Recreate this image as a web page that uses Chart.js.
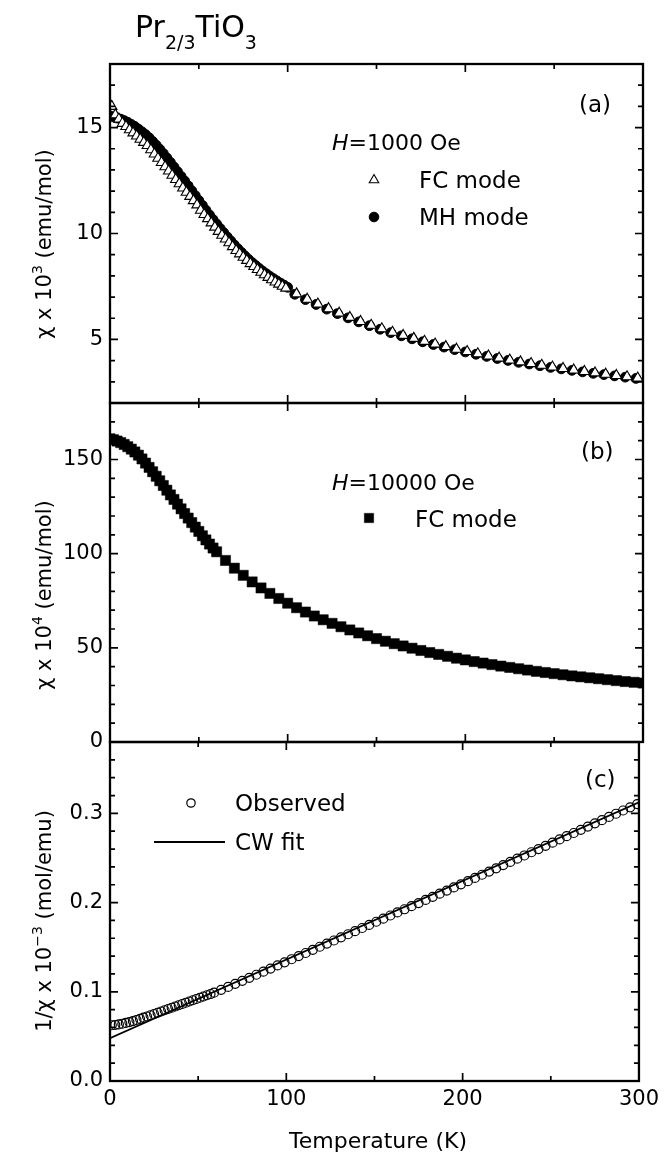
<!DOCTYPE html>
<html lang="en">
<head>
  <meta charset="UTF-8" />
  <title>Pr2/3TiO3 susceptibility</title>
  <script src="https://cdn.jsdelivr.net/npm/chart.js"></script>
  <style>
    html, body { margin: 0; padding: 0; background: #fff; }
    #wrap { position: relative; width: 665px; height: 1154px; }
    #wrap canvas { position: absolute; left: 0; top: 0; }
  </style>
</head>
<body>
<div id="wrap">
  <canvas id="panelA" width="665" height="1154"></canvas>
  <canvas id="panelB" width="665" height="1154"></canvas>
  <canvas id="panelC" width="665" height="1154"></canvas>
</div>

<script>
  // ---- data ----
  // (a) H = 1000 Oe, chi x 10^3 (emu/mol)
  const fcTemp = [1, 3, 5, 7, 9, 11, 13, 15, 17, 19, 21, 23, 25, 27, 29, 31, 33, 35, 37, 39,
    41, 43, 45, 47, 49, 51, 53, 55, 57, 59, 61, 63, 65, 67, 69, 71, 73, 75, 77, 79,
    81, 83, 85, 87, 89, 91, 93, 95, 97, 99,
    105, 111, 117, 123, 129, 135, 141, 147, 153, 159, 165, 171, 177, 183, 189, 195, 201,
    207, 213, 219, 225, 231, 237, 243, 249, 255, 261, 267, 273, 279, 285, 291, 297];
  const fcChi = [16.0, 15.6, 15.4, 15.2, 15.05, 14.9, 14.75, 14.6, 14.45, 14.3, 14.15, 13.95, 13.75, 13.55, 13.35, 13.15, 12.95, 12.75, 12.55, 12.35,
    12.15, 11.95, 11.75, 11.55, 11.35, 11.1, 10.9, 10.7, 10.5, 10.3, 10.1, 9.92, 9.74, 9.56, 9.38, 9.2, 9.04, 8.88, 8.73, 8.58,
    8.44, 8.3, 8.17, 8.05, 7.93, 7.82, 7.71, 7.61, 7.51, 7.42,
    7.15, 6.9, 6.67, 6.45, 6.24, 6.04, 5.85, 5.67, 5.5, 5.34, 5.19, 5.05, 4.91, 4.78, 4.66, 4.54, 4.43,
    4.32, 4.22, 4.12, 4.03, 3.94, 3.86, 3.78, 3.7, 3.63, 3.56, 3.49, 3.42, 3.36, 3.3, 3.24, 3.18];

  const mhTemp = [0, 2, 4, 6, 8, 10, 12, 14, 16, 18, 20, 22, 24, 26, 28, 30, 32, 34, 36, 38,
    40, 42, 44, 46, 48, 50, 52, 54, 56, 58, 60, 62, 64, 66, 68, 70, 72, 74, 76, 78,
    80, 82, 84, 86, 88, 90, 92, 94, 96, 98, 100,
    104, 110, 116, 122, 128, 134, 140, 146, 152, 158, 164, 170, 176, 182, 188, 194, 200,
    206, 212, 218, 224, 230, 236, 242, 248, 254, 260, 266, 272, 278, 284, 290, 296];
  const mhChi = [15.55, 15.5, 15.45, 15.4, 15.33, 15.25, 15.15, 15.05, 14.93, 14.8, 14.67, 14.52, 14.35, 14.17, 13.98, 13.78, 13.57, 13.36, 13.14, 12.92,
    12.7, 12.48, 12.25, 12.02, 11.79, 11.56, 11.33, 11.1, 10.88, 10.66, 10.45, 10.24, 10.04, 9.84, 9.65, 9.46, 9.28, 9.11, 8.94, 8.78,
    8.63, 8.49, 8.35, 8.22, 8.1, 7.98, 7.87, 7.76, 7.66, 7.56, 7.46,
    7.13, 6.88, 6.65, 6.43, 6.22, 6.02, 5.83, 5.65, 5.48, 5.32, 5.17, 5.03, 4.89, 4.76, 4.64, 4.52, 4.41,
    4.3, 4.2, 4.1, 4.01, 3.92, 3.84, 3.76, 3.68, 3.61, 3.54, 3.47, 3.4, 3.34, 3.28, 3.22, 3.16];

  // (b) H = 10000 Oe, chi x 10^4 (emu/mol)
  const hfTemp = [0, 2, 4, 6, 8, 10, 12, 14, 16, 18, 20, 22, 24, 26, 28, 30, 32, 34, 36, 38,
    40, 42, 44, 46, 48, 50, 52, 54, 56, 58, 60,
    65, 70, 75, 80, 85, 90, 95, 100, 105, 110, 115, 120, 125, 130, 135, 140, 145, 150, 155, 160,
    165, 170, 175, 180, 185, 190, 195, 200, 205, 210, 215, 220, 225, 230, 235, 240, 245, 250, 255, 260,
    265, 270, 275, 280, 285, 290, 295, 300];
  const hfChi = [161, 160.5, 159.8, 159, 158, 156.8, 155.5, 154, 152.3, 150.3, 148.1, 145.8, 143.5, 141.1, 138.7, 136.2, 133.7, 131.2, 128.8, 126.3,
    123.8, 121.3, 118.9, 116.5, 114.1, 111.8, 109.5, 107.3, 105.1, 103, 101,
    96.4, 92.3, 88.5, 85.0, 81.8, 78.9, 76.2, 73.7, 71.3, 69.0, 66.9, 64.9, 63.0, 61.2, 59.5, 57.9, 56.4, 54.9, 53.5, 52.2,
    51.0, 49.8, 48.6, 47.5, 46.5, 45.5, 44.5, 43.6, 42.7, 41.9, 41.1, 40.3, 39.6, 38.9, 38.2, 37.5, 36.9, 36.3, 35.7, 35.1,
    34.6, 34.1, 33.6, 33.1, 32.6, 32.1, 31.7, 31.3];

  // (c) 1/chi x 10^-3 (mol/emu)
  const invTemp = [1, 3, 5, 7, 9, 11, 13, 15, 17, 19, 21, 23, 25, 27, 29, 31, 33, 35, 37, 39,
    41, 43, 45, 47, 49, 51, 53, 55, 57, 59,
    63, 67, 71, 75, 79, 83, 87, 91, 95, 99, 103, 107, 111, 115, 119, 123, 127, 131, 135, 139,
    143, 147, 151, 155, 159, 163, 167, 171, 175, 179, 183, 187, 191, 195, 199, 203, 207, 211, 215, 219,
    223, 227, 231, 235, 239, 243, 247, 251, 255, 259, 263, 267, 271, 275, 279, 283, 287, 291, 295, 299];
  const invChi = [0.0625, 0.0628, 0.0634, 0.0642, 0.0651, 0.0661, 0.0672, 0.0684, 0.0697, 0.071, 0.0723, 0.0737, 0.0751, 0.0765, 0.0779, 0.0793, 0.0807, 0.0821, 0.0835, 0.0849,
    0.0863, 0.0877, 0.0891, 0.0905, 0.0919, 0.0933, 0.0947, 0.0961, 0.0975, 0.099,
    0.1022, 0.1055, 0.1089, 0.1123, 0.1157, 0.1191, 0.1225, 0.126, 0.1295, 0.133, 0.1365, 0.14, 0.1435, 0.147, 0.1505, 0.154, 0.1575, 0.161, 0.1645, 0.168,
    0.1715, 0.175, 0.1785, 0.182, 0.1855, 0.189, 0.1925, 0.196, 0.1995, 0.203, 0.2065, 0.21, 0.2135, 0.217, 0.2205, 0.224, 0.2276, 0.2312, 0.2348, 0.2384,
    0.242, 0.2456, 0.2492, 0.2528, 0.2564, 0.26, 0.2636, 0.2672, 0.2708, 0.2744, 0.278, 0.2816, 0.2852, 0.2888, 0.2924, 0.296, 0.2996, 0.3032, 0.3068, 0.3104];

  // Curie-Weiss fit line end points
  const cwTemp = [0, 300];
  const cwInv = [0.048, 0.3125];

  // axis ranges / tick steps
  const tempRange = [0, 300];
  const tempTicks = { minor: 50, major: 100 };
  const axisA = { min: 2, max: 18, minor: 1, major: 5 };
  const axisB = { min: 0, max: 180, minor: 10, major: 50 };
  const axisC = { min: 0, max: 0.38, minor: 0.02, major: 0.1 };

  // ---- helpers ----
  const FONT = '"DejaVu Sans", sans-serif';
  const pts = (xs, ys) => xs.map((t, i) => ({ x: t, y: ys[i] }));
  const isMult = (v, step) => Math.abs(v / step - Math.round(v / step)) < 1e-6;

  // parts: [text, size, dy, italic]
  function txt(ctx, parts, x, y, o) {
    o = o || {};
    ctx.save();
    ctx.translate(x, y);
    if (o.rotate) ctx.rotate(o.rotate);
    ctx.fillStyle = '#000';
    ctx.textBaseline = 'alphabetic';
    ctx.textAlign = 'left';
    const fontOf = p => (p[3] ? 'italic ' : '') + p[1] + 'px ' + FONT;
    let total = 0;
    const widths = parts.map(p => { ctx.font = fontOf(p); const w = ctx.measureText(p[0]).width; total += w; return w; });
    let cx = o.center ? -total / 2 : 0;
    parts.forEach((p, i) => {
      ctx.font = fontOf(p);
      ctx.fillText(p[0], cx, p[2] || 0);
      cx += widths[i];
    });
    ctx.restore();
  }

  function marker(ctx, style, x, y, r, fill, lw) {
    ctx.save();
    ctx.beginPath();
    if (style === 'triangle') {
      ctx.moveTo(x, y - r);
      ctx.lineTo(x + r * 0.866, y + r * 0.5);
      ctx.lineTo(x - r * 0.866, y + r * 0.5);
      ctx.closePath();
    } else if (style === 'rect') {
      const s = r * 0.707;
      ctx.rect(x - s, y - s, 2 * s, 2 * s);
    } else {
      ctx.arc(x, y, r, 0, Math.PI * 2);
    }
    if (fill) { ctx.fillStyle = fill; ctx.fill(); }
    ctx.lineWidth = lw || 1.1;
    ctx.strokeStyle = '#000';
    ctx.stroke();
    ctx.restore();
  }

  // frame with inward ticks on all four sides + panel decorations
  function framePlugin(key, yAxis, extra) {
    return {
      id: 'frame' + key,
      afterDatasetsDraw(chart) {
        const { ctx, chartArea: a } = chart;
        const x = chart.scales.x, y = chart.scales.y;
        ctx.save();
        ctx.strokeStyle = '#000';
        ctx.lineWidth = 1.7;
        ctx.beginPath();
        y.ticks.forEach(t => {
          const p = y.getPixelForValue(t.value);
          if (p <= a.top + 1 || p >= a.bottom - 1) return;
          const len = isMult(t.value, yAxis.major) ? 8 : 5;
          ctx.moveTo(a.left, p); ctx.lineTo(a.left + len, p);
          ctx.moveTo(a.right, p); ctx.lineTo(a.right - len, p);
        });
        for (let v = tempRange[0] + tempTicks.minor; v < tempRange[1]; v += tempTicks.minor) {
          const p = x.getPixelForValue(v);
          const len = isMult(v, tempTicks.major) ? 8 : 5;
          ctx.moveTo(p, a.top); ctx.lineTo(p, a.top + len);
          ctx.moveTo(p, a.bottom); ctx.lineTo(p, a.bottom - len);
        }
        ctx.stroke();
        ctx.lineWidth = 2.3;
        ctx.strokeRect(a.left, a.top, a.right - a.left, a.bottom - a.top);
        ctx.restore();
        extra(ctx, chart);
      }
    };
  }

  function makePanel(id, yAxis, datasets, pad, showX, extra) {
    const tickFont = { family: FONT, size: 21 };
    return new Chart(document.getElementById(id), {
      type: 'scatter',
      data: { datasets: datasets },
      options: {
        responsive: false,
        animation: false,
        devicePixelRatio: 1,
        events: [],
        layout: { padding: pad },
        plugins: { legend: { display: false }, tooltip: { enabled: false } },
        scales: {
          x: {
            type: 'linear', min: tempRange[0], max: tempRange[1], display: showX,
            grid: { display: false, drawTicks: false }, border: { display: false },
            ticks: {
              stepSize: tempTicks.minor, autoSkip: false, maxRotation: 0, padding: 6,
              color: '#000', font: tickFont,
              callback: v => isMult(v, tempTicks.major) ? String(v) : ''
            },
            afterFit: s => { s.height = showX ? 73 : 0; }
          },
          y: {
            type: 'linear', min: yAxis.min, max: yAxis.max,
            grid: { display: false, drawTicks: false }, border: { display: false },
            ticks: {
              stepSize: yAxis.minor, autoSkip: false, padding: 7,
              color: '#000', font: tickFont,
              callback: v => isMult(v, yAxis.major) ? (yAxis.major < 1 ? v.toFixed(1) : String(Math.round(v))) : ''
            },
            afterFit: s => { s.width = 110; }
          }
        }
      },
      plugins: [framePlugin(id, yAxis, extra)]
    });
  }

  // ---- panel (a) ----
  makePanel('panelA', axisA, [
    { label: 'FC mode', data: pts(fcTemp, fcChi), pointStyle: 'triangle', pointRadius: 6,
      pointBackgroundColor: '#fff', pointBorderColor: '#000', pointBorderWidth: 1.1 },
    { label: 'MH mode', data: pts(mhTemp, mhChi), pointStyle: 'circle', pointRadius: 4.9,
      pointBackgroundColor: '#000', pointBorderColor: '#000', pointBorderWidth: 1 }
  ], { top: 64, bottom: 751, left: 0, right: 22 }, false, ctx => {
    txt(ctx, [['Pr', 30], ['2/3', 19, 12], ['TiO', 30], ['3', 19, 12]], 135, 37);
    txt(ctx, [['\u03c7 x 10', 21], ['3', 14, -9], [' (emu/mol)', 21]], 51, 244, { rotate: -Math.PI / 2, center: true });
    txt(ctx, [['(a)', 23]], 579, 112);
    txt(ctx, [['H', 22, 0, true], ['=1000 Oe', 22]], 332, 150);
    marker(ctx, 'triangle', 374, 180, 5.5, '#fff', 1.1);
    txt(ctx, [['FC mode', 23]], 419, 188);
    marker(ctx, 'circle', 374, 217, 4.8, '#000', 1);
    txt(ctx, [['MH mode', 23]], 419, 225);
  });

  // ---- panel (b) ----
  makePanel('panelB', axisB, [
    { label: 'FC mode', data: pts(hfTemp, hfChi), pointStyle: 'rect', pointRadius: 7.2,
      pointBackgroundColor: '#000', pointBorderColor: '#000', pointBorderWidth: 0.5 }
  ], { top: 403, bottom: 412, left: 0, right: 22 }, false, ctx => {
    txt(ctx, [['\u03c7 x 10', 21], ['4', 14, -9], [' (emu/mol)', 21]], 51, 595, { rotate: -Math.PI / 2, center: true });
    txt(ctx, [['(b)', 23]], 581, 459);
    txt(ctx, [['H', 22, 0, true], ['=10000 Oe', 22]], 332, 490);
    marker(ctx, 'rect', 369, 518, 6.6, '#000', 0.5);
    txt(ctx, [['FC mode', 23]], 415, 527);
  });

  // ---- panel (c) ----
  makePanel('panelC', axisC, [
    { label: 'CW fit', data: pts(cwTemp, cwInv), showLine: true, borderColor: '#000', borderWidth: 1.8,
      pointRadius: 0 },
    { label: 'Observed', data: pts(invTemp, invChi), pointStyle: 'circle', pointRadius: 4.5,
      pointBackgroundColor: 'rgba(0,0,0,0)', pointBorderColor: '#000', pointBorderWidth: 1.2 }
  ], { top: 742, bottom: 0, left: 0, right: 22 }, true, ctx => {
    txt(ctx, [['1/\u03c7 x 10', 21], ['\u22123', 14, -9], [' (mol/emu)', 21]], 51, 921, { rotate: -Math.PI / 2, center: true });
    txt(ctx, [['(c)', 23]], 585, 787);
    marker(ctx, 'circle', 191, 803, 4.2, null, 1.2);
    txt(ctx, [['Observed', 23]], 235, 811);
    ctx.save();
    ctx.strokeStyle = '#000';
    ctx.lineWidth = 1.8;
    ctx.beginPath(); ctx.moveTo(154, 842); ctx.lineTo(225, 842); ctx.stroke();
    ctx.restore();
    txt(ctx, [['CW fit', 23]], 235, 850);
    txt(ctx, [['Temperature (K)', 22]], 378, 1148, { center: true });
  });
</script>
</body>
</html>
